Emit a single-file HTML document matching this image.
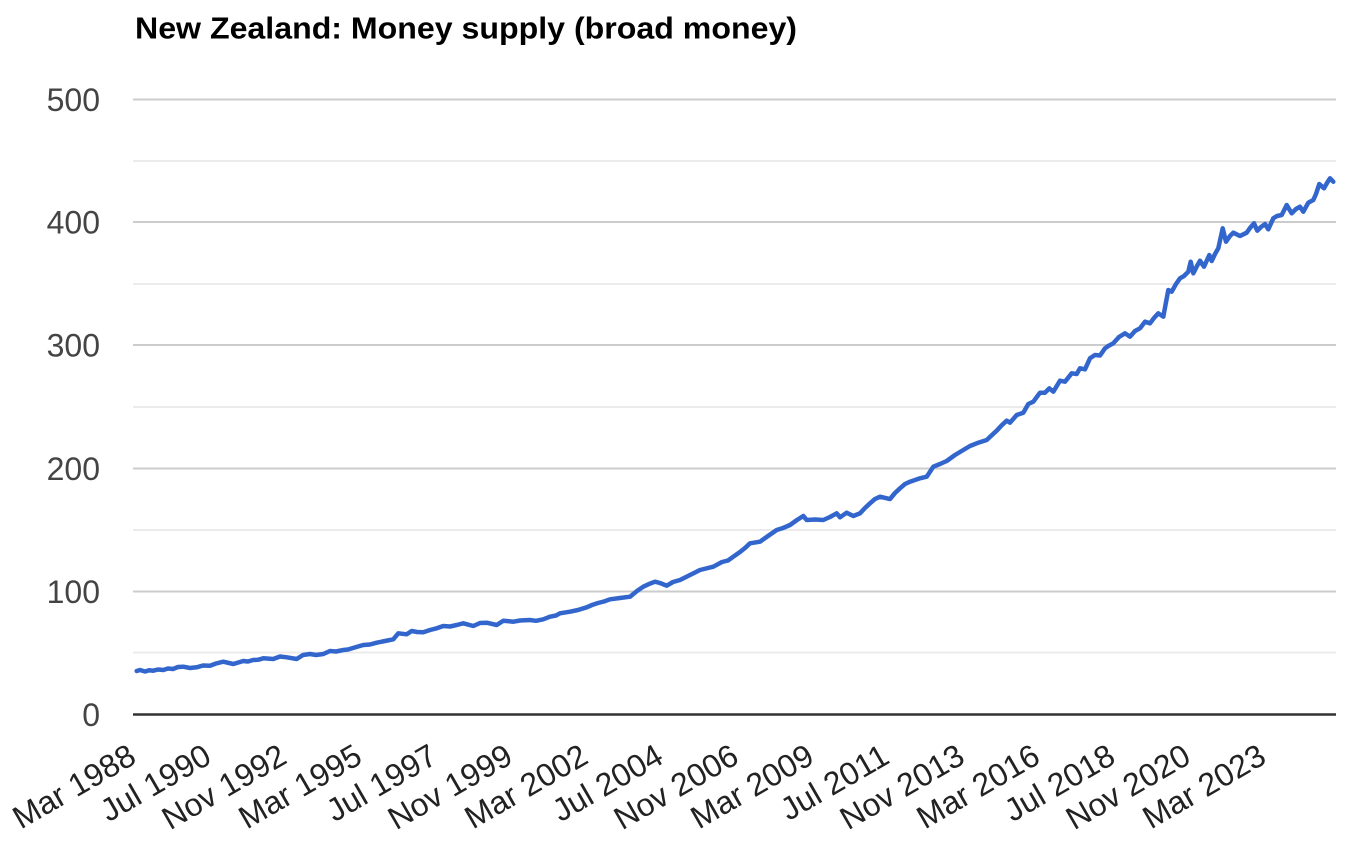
<!DOCTYPE html>
<html>
<head>
<meta charset="utf-8">
<style>
  html,body{margin:0;padding:0;background:#fff;}
  svg{display:block;}
  text{font-family:"Liberation Sans",Arial,sans-serif;}
</style>
</head>
<body>
<svg width="1362" height="863" viewBox="0 0 1362 863" xmlns="http://www.w3.org/2000/svg">
  <rect x="0" y="0" width="1362" height="863" fill="#ffffff"/>
  <!-- title -->
  <text x="135" y="38.5" font-size="31" font-weight="bold" fill="#000" textLength="662" lengthAdjust="spacingAndGlyphs">New Zealand: Money supply (broad money)</text>

  <!-- minor gridlines -->
  <g stroke="#ebebeb" stroke-width="2">
    <line x1="133" x2="1336" y1="161" y2="161"/>
    <line x1="133" x2="1336" y1="284" y2="284"/>
    <line x1="133" x2="1336" y1="407" y2="407"/>
    <line x1="133" x2="1336" y1="530" y2="530"/>
    <line x1="133" x2="1336" y1="652.5" y2="652.5"/>
  </g>
  <!-- major gridlines -->
  <g stroke="#cccccc" stroke-width="2">
    <line x1="133" x2="1336" y1="99.5" y2="99.5"/>
    <line x1="133" x2="1336" y1="222" y2="222"/>
    <line x1="133" x2="1336" y1="345" y2="345"/>
    <line x1="133" x2="1336" y1="468.5" y2="468.5"/>
    <line x1="133" x2="1336" y1="591.5" y2="591.5"/>
  </g>

  <!-- y labels -->
  <g font-size="32" fill="#444" text-anchor="end">
    <text x="100" y="111">500</text>
    <text x="100" y="233.5">400</text>
    <text x="100" y="356.5">300</text>
    <text x="100" y="480">200</text>
    <text x="100" y="603">100</text>
    <text x="100" y="726">0</text>
  </g>

  <!-- series -->
  <polyline fill="none" stroke="#3366cc" stroke-width="4.5" stroke-linejoin="round" stroke-linecap="round"
   points="136.7,671 140,670 145,671.5 149,670.3 153.3,670.7 158,669.5 163.3,670 168,668.5 173,669 178,667 183.3,666.7 190,668 196.7,667.3 203,665.5 210,665.7 216,663.5 223.3,661.7 233.3,664 243.3,661 248,661.5 253,660 258,659.8 263.3,658.3 273.3,659 280,656.5 286.7,657.3 296.7,659 303,655 310,654 316,655 323.3,654 330,651 336,651.5 343.3,650 348,649.5 353,648 358,646.5 363.3,645 370,644.5 376.7,642.7 385,641 393.3,639.3 398.3,633.3 406.7,634.3 411.7,631 417,632 423.3,632.3 430,630 436.7,628.3 443.3,626 450,626.5 456.7,625 463.3,623.3 473.3,626 480,623 486.7,622.7 496.7,625 503.3,620.7 513.3,621.7 520,620.5 530,620 536,620.8 543.3,619.3 550,616.7 556,615.5 560,613.3 570,611.7 578,610 586.7,607.3 592,605 598,603 604,601.5 610,599.3 620,598 630,596.7 637,591 643.3,586.7 649,584 655,581.7 660,583 666.7,585.7 673,582 680,580 690,575 700,570 706,568.5 713.3,566.7 722,562 728,560.5 733.3,556.7 740,552 745,548 750,543.3 760,541.7 768,536 776.7,530 783,528 790,525 797,520 803.3,516 806.7,520 815,519.5 823.3,520 830,517 836.7,513.3 840,517.3 846.7,512.7 853.3,516 860,513.3 865,508 870,503.3 875,499 880,496.7 890,499 895,493 900,488.3 905,484 910,481.7 920,478.3 926.7,476.7 933.3,466.7 940,464 946.7,461 955,455 963.3,450 970,446 976.7,443.3 986.7,440 992,435 996.7,430.7 1002,425 1006.7,420.7 1010,422.7 1016.7,415 1023.3,412.7 1028.3,404 1033.3,401.7 1040,392.7 1045,392.7 1049.3,388.3 1053.3,391.7 1060,380.7 1065,381.7 1071.7,373.3 1076.7,374 1080,368.3 1085,369.3 1090,358.3 1095,355 1100,355.5 1105,348.3 1108.3,346 1113.3,343.3 1119,337 1125,333.3 1130,336.7 1135,331 1140,328.3 1145,321.7 1150,323.3 1154,318 1158.3,313.3 1163.3,316.7 1168.3,290 1171.7,291.7 1176,284 1180,278.3 1184,276 1188.3,271.7 1190.7,261.7 1193.3,273.3 1197,266 1200,260.7 1204,266.7 1209.3,255 1211.7,261 1215,254 1218.3,248.3 1222.7,228.3 1226,241.7 1230,236 1233.3,232.7 1240,236 1246.7,232.7 1250,228 1254,223.3 1257.3,230.7 1261,227 1265,224 1268.3,229.3 1273.3,218.3 1277,216 1281.7,215 1286.7,205 1291.7,213.3 1296,209 1300,206.7 1303.3,211.7 1308.3,202.7 1313.3,200 1316,194 1319.3,184 1324,188.3 1327,183 1330,178.3 1333.3,181.7"/>

  <!-- baseline -->
  <line x1="133" x2="1336" y1="714.5" y2="714.5" stroke="#333333" stroke-width="2.5"/>

  <!-- x labels -->
  <g font-size="32" fill="#222" text-anchor="end">
    <text transform="translate(138,762) rotate(-30)">Mar 1988</text>
    <text transform="translate(213.3,762) rotate(-30)">Jul 1990</text>
    <text transform="translate(288.7,762) rotate(-30)">Nov 1992</text>
    <text transform="translate(364,762) rotate(-30)">Mar 1995</text>
    <text transform="translate(439.3,762) rotate(-30)">Jul 1997</text>
    <text transform="translate(514.7,762) rotate(-30)">Nov 1999</text>
    <text transform="translate(590,762) rotate(-30)">Mar 2002</text>
    <text transform="translate(665.3,762) rotate(-30)">Jul 2004</text>
    <text transform="translate(740.7,762) rotate(-30)">Nov 2006</text>
    <text transform="translate(816,762) rotate(-30)">Mar 2009</text>
    <text transform="translate(891.3,762) rotate(-30)">Jul 2011</text>
    <text transform="translate(966.7,762) rotate(-30)">Nov 2013</text>
    <text transform="translate(1042,762) rotate(-30)">Mar 2016</text>
    <text transform="translate(1117.3,762) rotate(-30)">Jul 2018</text>
    <text transform="translate(1192.7,762) rotate(-30)">Nov 2020</text>
    <text transform="translate(1268,762) rotate(-30)">Mar 2023</text>
  </g>
</svg>
</body>
</html>
